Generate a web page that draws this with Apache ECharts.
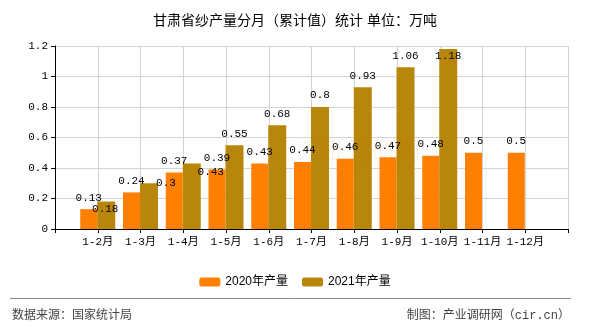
<!DOCTYPE html>
<html>
<head>
<meta charset="utf-8">
<script src="https://cdn.jsdelivr.net/npm/echarts@6/dist/echarts.min.js"></script>
<style>
  html, body { margin: 0; padding: 0; background: #fff; }
  #chart { width: 590px; height: 330px; }
</style>
</head>
<body>
<div id="chart"></div>
<script>
// Month ranges (cumulative); empty slots pad both ends of the axis
const categories = ['', '1-2月', '1-3月', '1-4月', '1-5月', '1-6月', '1-7月', '1-8月', '1-9月', '1-10月', '1-11月', '1-12月', ''];
const output2020 = [null, 0.13, 0.24, 0.37, 0.39, 0.43, 0.44, 0.46, 0.47, 0.48, 0.5, 0.5, null];
const output2021 = [null, 0.18, 0.3, 0.43, 0.55, 0.68, 0.8, 0.93, 1.06, 1.18, null, null, null];
const yTicks = [0, 0.2, 0.4, 0.6, 0.8, 1, 1.2];

const monoFont = "'Liberation Mono', 'Noto Sans CJK SC', monospace";
const cjkFont = "'Liberation Sans', 'Noto Sans CJK SC', sans-serif";

// label shifts for the 2021 series where labels were pushed off the bar top
const shifts2021 = { 1: [-1, 19], 2: [17, 11], 3: [19, 20], 9: [0, 19] };
const guideIndex = 3;

const chart = echarts.init(document.getElementById('chart'), null, { renderer: 'canvas' });

chart.setOption({
  animation: false,
  backgroundColor: '#ffffff',
  title: {
    text: '甘肃省纱产量分月（累计值）统计 单位：万吨',
    left: 'center',
    top: 9,
    textStyle: { fontFamily: cjkFont, fontSize: 14, fontWeight: 'normal', color: '#000' }
  },
  legend: {
    data: ['2020年产量', '2021年产量'],
    left: 'center',
    top: 271,
    itemWidth: 21,
    itemHeight: 9,
    itemGap: 14,
    textStyle: { fontFamily: cjkFont, fontSize: 12, color: '#000' }
  },
  grid: { left: 55, right: 22, top: 46, bottom: 101, containLabel: false },
  xAxis: {
    type: 'category',
    data: categories,
    boundaryGap: false,
    axisLine: { lineStyle: { color: '#000', width: 1 } },
    axisTick: { show: true, interval: 0, length: 4, lineStyle: { color: '#000' } },
    axisLabel: { interval: 0, fontFamily: monoFont, fontSize: 11, color: '#000', margin: 8 },
    splitLine: { show: true, interval: 0, lineStyle: { color: '#d3d3d3', width: 1 } }
  },
  yAxis: {
    type: 'value',
    min: yTicks[0],
    max: yTicks[yTicks.length - 1],
    interval: 0.2,
    axisLine: { show: true, lineStyle: { color: '#000', width: 1 } },
    axisTick: { show: true, length: 4, lineStyle: { color: '#000' } },
    axisLabel: { fontFamily: monoFont, fontSize: 11, color: '#000', margin: 7 },
    splitLine: { show: true, lineStyle: { color: '#d3d3d3', width: 1 } }
  },
  series: [
    {
      name: '2020年产量',
      type: 'bar',
      data: output2020,
      barWidth: 17,
      barGap: 0,
      itemStyle: { color: '#FF8000' },
      label: {
        show: true, position: 'top', distance: 6,
        fontFamily: monoFont, fontSize: 11, color: '#000'
      }
    },
    {
      name: '2021年产量',
      type: 'bar',
      data: output2021.map((v, i) => ({
        value: v,
        labelLine: { show: i === guideIndex }
      })),
      barWidth: 18,
      barGap: 0,
      itemStyle: { color: '#B8860B' },
      label: {
        show: true, position: 'top', distance: 6,
        fontFamily: monoFont, fontSize: 11, color: '#000'
      },
      labelLine: { show: true, lineStyle: { color: '#333', width: 1 } },
      labelLayout: function (params) {
        const s = shifts2021[params.dataIndex];
        return s ? { dx: s[0], dy: s[1] } : {};
      }
    }
  ],
  graphic: [
    {
      type: 'text', left: 300, top: 140, silent: true, z: 100,
      style: { text: '产业调研网', fontFamily: cjkFont, fontSize: 24, fill: 'rgba(200,100,0,0.07)' }
    },
    {
      type: 'line', silent: true,
      shape: { x1: 10, y1: 298.5, x2: 571, y2: 298.5 },
      style: { stroke: '#888', lineWidth: 1 }
    },
    {
      type: 'text', left: 12, top: 310, silent: true,
      style: { text: '数据来源：国家统计局', fontFamily: monoFont, fontSize: 12, fill: '#444' }
    },
    {
      type: 'text', right: 20, top: 310, silent: true,
      style: { text: '制图：产业调研网（cir.cn）', fontFamily: monoFont, fontSize: 12, fill: '#444' }
    }
  ]
});
</script>
</body>
</html>
